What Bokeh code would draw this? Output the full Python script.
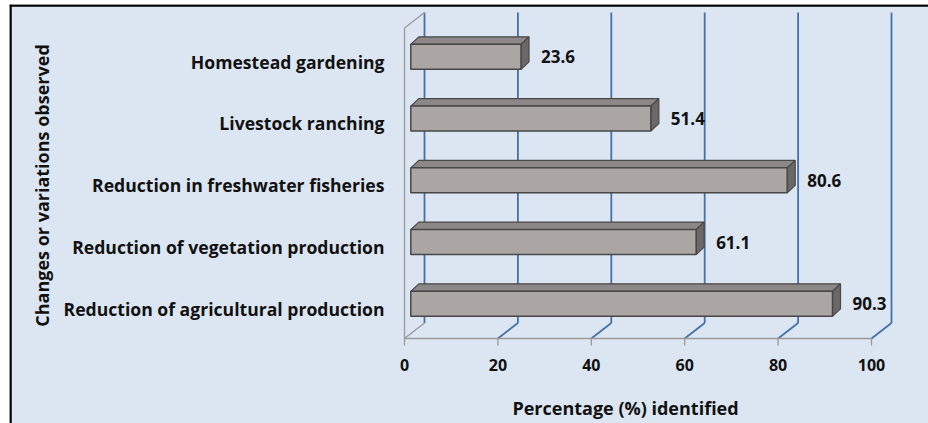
import numpy as np
from bokeh.plotting import figure
from bokeh.models import Range1d
from bokeh.core.properties import value
from bokeh.embed import file_html
from bokeh.resources import INLINE

# ---- data ----
categories = ["Reduction of agricultural production",
              "Reduction of vegetation production",
              "Reduction in freshwater fisheries",
              "Livestock ranching",
              "Homestead gardening"]
percentages = [90.3, 61.1, 80.6, 51.4, 23.6]
x_ticks = [0, 20, 40, 60, 80, 100]
x_title = "Percentage (%) identified"
y_title = "Changes or variations observed"

# ---- geometry (pixels -> data units) ----
W, H = 928, 423
ML, MT = 9, 4            # white strip left / top (outside chart area)
FW, FH = W - ML, H - MT  # frame size
PXX = 4.67      # px per percent
PXY = 61.75     # px per category step
X0_PX = 395     # frame px of 0 %
Y0_PX = 304     # frame px (from top) of first category
x_start = -X0_PX / PXX
x_end = x_start + FW / PXX
y_end = Y0_PX / PXY
y_start = y_end - FH / PXY


def dx(px):
    return px / PXX


def dy(px):
    return px / PXY


FONT = value("Open Sans")
BG = "#dce6f2"
GRID = "#4472a8"
WALL = "#9a9a9a"
TXT = "#111111"

p = figure(width=W, height=H, x_range=Range1d(x_start, x_end),
           y_range=Range1d(y_start, y_end), output_backend="svg",
           toolbar_location=None, x_axis_location=None, y_axis_location=None,
           min_border=0)
p.min_border_left = ML
p.min_border_top = MT
p.min_border_right = 0
p.min_border_bottom = 0
p.outline_line_color = None
p.background_fill_color = BG
p.border_fill_color = "white"
p.xgrid.grid_line_color = None
p.ygrid.grid_line_color = None

y_floor = -dy(30)            # front edge of floor
WDX, WDY = dx(20), dy(15.5)  # depth of chart walls
y_top = y_end - dy(8)        # top of back wall

# back-wall gridlines and floor diagonals
gx = np.array(x_ticks, dtype=float)
p.segment(x0=gx + WDX, y0=y_floor + WDY, x1=gx + WDX, y1=y_top,
          line_color=GRID, line_width=1.8)
p.segment(x0=gx[1:], y0=y_floor, x1=gx[1:] + WDX, y1=y_floor + WDY,
          line_color=GRID, line_width=1.8)
# left wall and floor edge (grey)
p.line(x=[x_ticks[0] + WDX, x_ticks[0], x_ticks[0], x_ticks[0] + WDX],
       y=[y_top, y_top - WDY, y_floor, y_floor + WDY],
       line_color=WALL, line_width=1.3)
# axis line + ticks
p.segment(x0=[x_ticks[0]], y0=[y_floor], x1=[x_ticks[-1]], y1=[y_floor],
          line_color=WALL, line_width=1.3)
p.segment(x0=gx, y0=y_floor, x1=gx, y1=y_floor - dy(7),
          line_color=WALL, line_width=1.3)

# ---- 3D bars ----
idx = np.arange(len(categories), dtype=float)
vals = np.array(percentages)
FRONT_DX = dx(6.3)
CEN_DY = dy(4.65)
HALF_H = dy(12.5)
BDX, BDY = dx(8), dy(7.5)
left = np.full_like(vals, FRONT_DX)
right = vals + FRONT_DX
bottom = idx + CEN_DY - HALF_H
top = idx + CEN_DY + HALF_H

tops_x = [[l, r, r + BDX, l + BDX] for l, r in zip(left, right)]
tops_y = [[t, t, t + BDY, t + BDY] for t in top]
side_x = [[r, r, r + BDX, r + BDX] for r in right]
side_y = [[b, t, t + BDY, b + BDY] for b, t in zip(bottom, top)]
OUT = "#474747"
p.patches(xs=tops_x, ys=tops_y, fill_color="#8c8887", line_color=OUT, line_width=1.2)
p.patches(xs=side_x, ys=side_y, fill_color="#6b6867", line_color=OUT, line_width=1.2)
p.quad(left=left, right=right, bottom=bottom, top=top,
       fill_color="#aba6a4", line_color=OUT, line_width=1.5)

# value labels
p.text(x=right + dx(20), y=idx + CEN_DY, text=[f"{v:.1f}" for v in vals],
       text_font=FONT, text_font_style="bold", text_font_size="17px",
       text_align="left", text_baseline="middle", text_color=TXT)

# category labels
p.text(x=[-dx(20)] * len(categories), y=idx, text=categories,
       text_font=FONT, text_font_style="bold", text_font_size="17.6px",
       text_align="right", text_baseline="middle", text_color=TXT)

# x tick labels
p.text(x=gx, y=[-dy(56)] * len(x_ticks), text=[str(t) for t in x_ticks],
       text_font=FONT, text_font_style="bold", text_font_size="16px",
       text_align="center", text_baseline="middle", text_color=TXT)

# axis titles
p.text(x=[dx(221)], y=[-dy(99)], text=[x_title],
       text_font=FONT, text_font_style="bold", text_font_size="18px",
       text_align="center", text_baseline="middle", text_color=TXT)
p.text(x=[-dx(363)], y=[dy(123)], text=[y_title], angle=np.pi / 2,
       text_font=FONT, text_font_style="bold", text_font_size="18px",
       text_align="center", text_baseline="middle", text_color=TXT)

# outer frame (top and left edges)
p.segment(x0=[x_start], y0=[y_end - dy(1)], x1=[x_end], y1=[y_end - dy(1)],
          line_color="black", line_width=2.5)
p.segment(x0=[x_start + dx(1)], y0=[y_start], x1=[x_start + dx(1)], y1=[y_end],
          line_color="black", line_width=2.5)

open("out.html", "w").write(file_html(p, INLINE))
